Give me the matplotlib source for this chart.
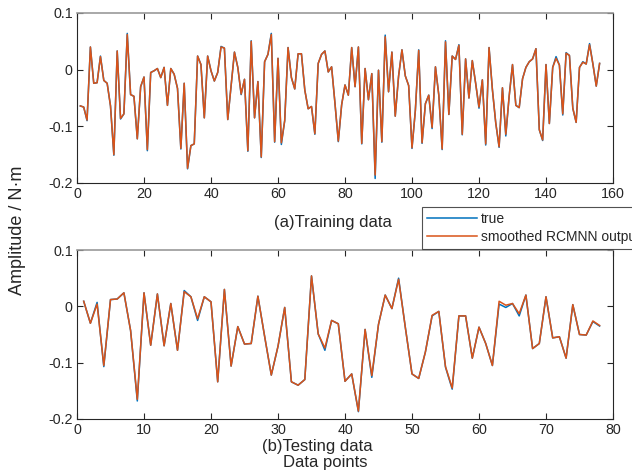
import matplotlib
matplotlib.use("Agg")
import matplotlib.pyplot as plt
import numpy as np

plt.rcParams['font.family'] = ['Liberation Sans', 'DejaVu Sans']

train_true = [
    -0.064, -0.066, -0.090, 0.040, -0.024, -0.023, 0.024, -0.019, -0.024, -0.064,
    -0.151, 0.033, -0.087, -0.078, 0.064, -0.044, -0.047, -0.122, -0.030, -0.013,
    -0.143, -0.005, -0.002, 0.002, -0.014, 0.004, -0.063, 0.002, -0.008, -0.033,
    -0.140, -0.024, -0.175, -0.134, -0.131, 0.024, 0.009, -0.085, 0.024, -0.002,
    -0.020, -0.005, 0.041, 0.038, -0.088, -0.029, 0.031, 0.004, -0.044, -0.017,
    -0.144, 0.051, -0.085, -0.021, -0.155, 0.014, 0.027, 0.064, -0.128, 0.020,
    -0.132, -0.090, 0.039, -0.014, -0.034, 0.028, 0.028, -0.036, -0.069, -0.065,
    -0.114, 0.011, 0.027, 0.033, -0.004, 0.005, -0.059, -0.127, -0.062, -0.027,
    -0.045, 0.039, -0.030, 0.040, -0.131, 0.002, -0.053, -0.007, -0.192, -0.001,
    -0.128, 0.061, -0.039, 0.031, -0.082, -0.011, 0.035, -0.011, -0.028, -0.139,
    -0.072, 0.035, -0.130, -0.060, -0.045, -0.104, 0.005, -0.045, -0.141, 0.051,
    -0.079, 0.024, 0.018, 0.044, -0.115, 0.019, -0.050, 0.016, -0.024, -0.068,
    -0.018, -0.133, 0.039, -0.035, -0.094, -0.137, -0.032, -0.117, -0.047, 0.009,
    -0.063, -0.067, -0.016, 0.004, 0.014, 0.019, 0.037, -0.106, -0.125, 0.009,
    -0.095, 0.004, 0.023, 0.008, -0.080, 0.030, 0.025, -0.068, -0.093, 0.004,
    0.014, 0.010, 0.046, 0.010, -0.029, 0.011,
]
train_pred = [
    -0.064, -0.066, -0.089, 0.040, -0.024, -0.023, 0.023, -0.019, -0.024, -0.064,
    -0.150, 0.033, -0.086, -0.078, 0.062, -0.044, -0.047, -0.122, -0.030, -0.013,
    -0.141, -0.005, -0.002, 0.002, -0.014, 0.004, -0.063, 0.002, -0.008, -0.033,
    -0.139, -0.024, -0.174, -0.134, -0.131, 0.024, 0.009, -0.085, 0.024, -0.002,
    -0.020, -0.005, 0.040, 0.038, -0.088, -0.029, 0.031, 0.004, -0.043, -0.017,
    -0.143, 0.050, -0.085, -0.021, -0.154, 0.014, 0.027, 0.062, -0.127, 0.020,
    -0.129, -0.090, 0.039, -0.014, -0.034, 0.028, 0.028, -0.036, -0.069, -0.065,
    -0.113, 0.011, 0.027, 0.033, -0.004, 0.005, -0.059, -0.126, -0.062, -0.027,
    -0.045, 0.039, -0.030, 0.040, -0.130, 0.002, -0.053, -0.007, -0.186, -0.001,
    -0.127, 0.058, -0.039, 0.031, -0.082, -0.011, 0.035, -0.011, -0.028, -0.138,
    -0.072, 0.034, -0.129, -0.060, -0.045, -0.102, 0.005, -0.045, -0.140, 0.049,
    -0.079, 0.024, 0.018, 0.043, -0.114, 0.019, -0.050, 0.016, -0.024, -0.066,
    -0.018, -0.131, 0.039, -0.035, -0.094, -0.136, -0.032, -0.114, -0.047, 0.009,
    -0.063, -0.067, -0.016, 0.004, 0.014, 0.019, 0.037, -0.106, -0.124, 0.009,
    -0.095, 0.004, 0.020, 0.008, -0.078, 0.029, 0.025, -0.068, -0.093, 0.004,
    0.013, 0.010, 0.044, 0.010, -0.029, 0.011,
]

test_true = [
    0.009, -0.030, 0.007, -0.107, 0.012, 0.013, 0.024, -0.043, -0.168, 0.024,
    -0.069, 0.022, -0.070, 0.005, -0.078, 0.028, 0.017, -0.025, 0.017, 0.008,
    -0.134, 0.030, -0.106, -0.036, -0.067, -0.066, 0.018, -0.053, -0.122, -0.071,
    -0.002, -0.134, -0.140, -0.130, 0.054, -0.049, -0.078, -0.025, -0.031, -0.133,
    -0.120, -0.187, -0.041, -0.126, -0.032, 0.020, -0.004, 0.050, -0.037, -0.120,
    -0.128, -0.081, -0.017, -0.009, -0.108, -0.147, -0.017, -0.017, -0.092, -0.037,
    -0.066, -0.105, 0.004, -0.002, 0.005, -0.017, 0.020, -0.075, -0.066, 0.017,
    -0.056, -0.054, -0.092, 0.003, -0.050, -0.051, -0.027, -0.035,
]
test_pred = [
    0.009, -0.030, 0.004, -0.105, 0.012, 0.013, 0.024, -0.043, -0.165, 0.024,
    -0.069, 0.022, -0.070, 0.005, -0.078, 0.026, 0.017, -0.022, 0.017, 0.008,
    -0.134, 0.030, -0.106, -0.036, -0.067, -0.066, 0.018, -0.053, -0.122, -0.071,
    -0.002, -0.134, -0.140, -0.130, 0.054, -0.049, -0.074, -0.025, -0.031, -0.133,
    -0.120, -0.186, -0.041, -0.123, -0.032, 0.020, -0.004, 0.048, -0.037, -0.120,
    -0.128, -0.081, -0.016, -0.009, -0.107, -0.145, -0.017, -0.017, -0.092, -0.037,
    -0.066, -0.105, 0.009, 0.002, 0.005, -0.013, 0.020, -0.075, -0.066, 0.017,
    -0.056, -0.054, -0.092, 0.003, -0.050, -0.051, -0.026, -0.034,
]

blue = '#0072BD'
orange = '#D95319'
dark = '#262626'

fig = plt.figure(figsize=(6.32, 4.71), dpi=100)
W, H = 632, 471

def style(ax, xmax, xticks):
    ax.set_xlim(0, xmax)
    ax.set_ylim(-0.2, 0.1)
    ax.set_xticks(xticks)
    ax.set_yticks([-0.2, -0.1, 0, 0.1])
    ax.set_yticklabels(['-0.2', '-0.1', '0', '0.1'])
    ax.tick_params(direction='in', length=4, width=0.8, colors=dark,
                   labelsize=10.3, top=True, right=True, pad=3)
    for s in ['left', 'right', 'bottom']:
        ax.spines[s].set_color(dark)
        ax.spines[s].set_linewidth(0.8)
    ax.spines['top'].set_color('#9a9a9a')
    ax.spines['top'].set_linewidth(1.2)

ax1 = fig.add_axes([77 / W, 1 - 183 / H, 536 / W, 170 / H])
x1 = np.arange(1, len(train_true) + 1)
l1, = ax1.plot(x1, train_true, color=blue, lw=1.1)
l2, = ax1.plot(x1, train_pred, color=orange, lw=1.1)
style(ax1, 160, np.arange(0, 161, 20))

ax2 = fig.add_axes([77 / W, 1 - 419 / H, 536 / W, 169 / H])
x2 = np.arange(1, len(test_true) + 1)
ax2.plot(x2, test_true, color=blue, lw=1.1)
ax2.plot(x2, test_pred, color=orange, lw=1.1)
style(ax2, 80, np.arange(0, 81, 10))

fig.text(333 / W, 1 - 223 / H, '(a)Training data', ha='center', va='center',
         fontsize=12, color=dark)
fig.text(317 / W, 1 - 446 / H, '(b)Testing data', ha='center', va='center',
         fontsize=12, color=dark)
fig.text(325 / W, 1 - 463 / H, 'Data points', ha='center', va='center',
         fontsize=12, color=dark)
fig.text(18 / W, 1 - 230 / H, 'Amplitude / N·m', ha='center', va='center',
         rotation=90, fontsize=13, color=dark)

leg = fig.legend([l1, l2], ['true', 'smoothed RCMNN output'],
                 loc='upper left', bbox_to_anchor=(422 / W, 1 - 207 / H),
                 fontsize=10.0, frameon=True, fancybox=False, borderpad=0.35,
                 handlelength=3.6, handletextpad=0.3, labelspacing=0.3,
                 borderaxespad=0)
leg.get_frame().set_edgecolor(dark)
leg.get_frame().set_linewidth(0.8)
for t in leg.get_texts():
    t.set_color(dark)

fig.savefig('out.png', dpi=100)
